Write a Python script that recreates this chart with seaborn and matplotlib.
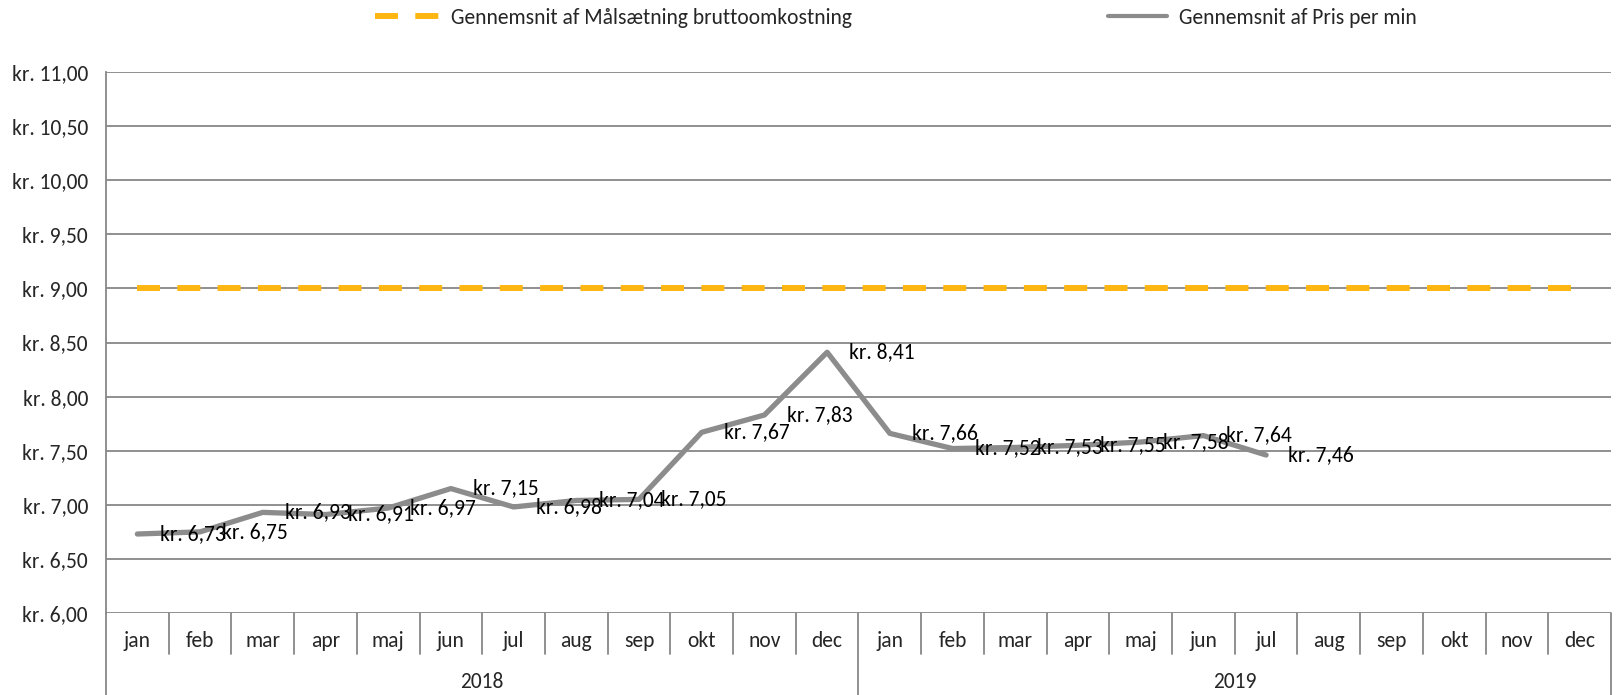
import numpy as np
import matplotlib
matplotlib.use("Agg")
import matplotlib.pyplot as plt
import matplotlib.transforms as mtransforms
from matplotlib.lines import Line2D
from matplotlib import font_manager
import seaborn as sns

# Data
months = ["jan", "feb", "mar", "apr", "maj", "jun", "jul", "aug", "sep", "okt", "nov", "dec"] * 2
years = ["2018", "2019"]
pris_per_min = [6.73, 6.75, 6.93, 6.91, 6.97, 7.15, 6.98, 7.04, 7.05, 7.67, 7.83, 8.41,
                7.66, 7.52, 7.53, 7.55, 7.58, 7.64, 7.46]
maal = [9.00] * 24
name_maal = "Gennemsnit af Målsætning bruttoomkostning"
name_pris = "Gennemsnit af Pris per min"

sns.set_style("white")

# pick a narrow Calibri-like font
available = {f.name for f in font_manager.fontManager.ttflist}
font = "DejaVu Sans"
for cand in ["Carlito", "Liberation Sans Narrow", "Roboto Condensed", "Open Sans Condensed",
             "PT Sans Narrow", "Archivo Narrow", "Lato"]:
    if cand in available:
        font = cand
        break
plt.rcParams["font.family"] = [font, "DejaVu Sans"]

FS = 15.5
GRID = "#878787"
ORANGE = "#FFB612"
GREY = "#8C8C8C"
DASH = (0, (3.85, 2.9))


def kr(v):
    return "kr. " + f"{v:.2f}".replace(".", ",")


W, H = 1616, 695
fig = plt.figure(figsize=(W / 100, H / 100), dpi=100)
ax = fig.add_axes([106 / W, 1 - 613 / H, (1611 - 106) / W, (613 - 72) / H])

x_all = np.arange(len(months))
x_pris = np.arange(len(pris_per_min))

sns.lineplot(x=x_all, y=maal, ax=ax, color=ORANGE, lw=4.3, linestyle=DASH, zorder=3)
sns.lineplot(x=x_pris, y=pris_per_min, ax=ax, color=GREY, lw=3.8, zorder=3)

# data labels
for xi, v in zip(x_pris, pris_per_min):
    ax.annotate(kr(v), (xi, v), xytext=(16, 0), textcoords="offset points",
                ha="left", va="center", fontsize=FS, color="black", zorder=4)

ax.set_xlim(-0.5, len(months) - 0.5)
ax.set_ylim(6, 11)
yt = np.arange(6, 11.01, 0.5)
ax.set_yticks(yt)
ax.set_yticklabels([kr(v) for v in yt], fontsize=FS)
ax.yaxis.grid(True, color=GRID, lw=1.3)
ax.set_xticks([])
for s in ["top", "right", "bottom"]:
    ax.spines[s].set_visible(False)
ax.spines["left"].set_color(GRID)
ax.spines["left"].set_linewidth(1.3)
ax.tick_params(axis="y", length=4, width=1.3, color=GRID, direction="out", pad=9)
ax.set_xlabel("")
ax.set_ylabel("")

# two level category axis
ax_h = 613 - 72
trans = mtransforms.blended_transform_factory(ax.transData, ax.transAxes)
y_month_bot = -(654 - 613) / ax_h
y_fig_bot = -(H - 613) / ax_h
for i in range(len(months) + 1):
    xb = i - 0.5
    yb = y_fig_bot if i % 12 == 0 else y_month_bot
    ax.plot([xb, xb], [0, yb], transform=trans, color=GRID, lw=1.3, clip_on=False)
for i, m in enumerate(months):
    ax.text(i, -(641 - 613) / ax_h, m, transform=trans, ha="center", va="center", fontsize=FS)
for j, yname in enumerate(years):
    ax.text(j * 12 + 5.5, -(682 - 613) / ax_h, yname, transform=trans,
            ha="center", va="center", fontsize=FS)

# legend
h1 = Line2D([], [], color=ORANGE, lw=4.3, linestyle=DASH)
h2 = Line2D([], [], color=GREY, lw=3.0)
for h, lab, x0, hl in [(h1, name_maal, 375, 3.0), (h2, name_pris, 1108, 2.75)]:
    fig.legend(handles=[h], labels=[lab], loc="center left",
               bbox_to_anchor=(x0 / W, 1 - 18 / H), frameon=False, fontsize=FS,
               borderpad=0, borderaxespad=0, handlelength=hl, handletextpad=0.55)

fig.savefig("out.png", dpi=100)
